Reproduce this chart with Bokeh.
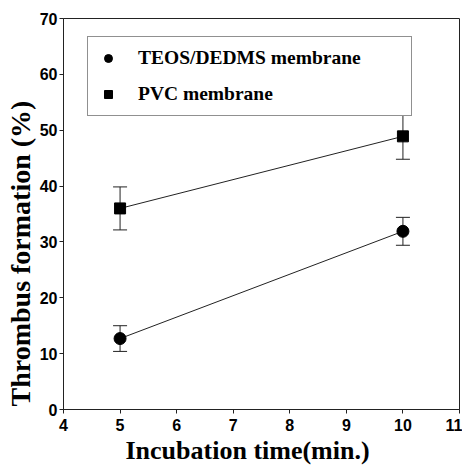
from bokeh.plotting import figure
from bokeh.models import (ColumnDataSource, Whisker, Legend, LegendItem, FixedTicker,
                          Range1d, Title)
from bokeh.embed import file_html
from bokeh.resources import INLINE

# data
time_min = [5, 10]
teos = [12.7, 31.9]
teos_err = [2.3, 2.5]
pvc = [36.0, 48.9]
pvc_err = [3.85, 4.1]
x_ticks = [4, 5, 6, 7, 8, 9, 10, 11]
y_ticks = [0, 10, 20, 30, 40, 50, 60, 70]

p = figure(width=462, height=466, output_backend="svg", toolbar_location=None,
           x_range=Range1d(4, 11), y_range=Range1d(0, 70),
           min_border_left=63, min_border_right=3, min_border_top=18, min_border_bottom=57)
p.grid.visible = False
p.outline_line_color = "#222222"
p.outline_line_width = 1
p.background_fill_color = "white"
p.border_fill_color = "white"

for ax in (p.xaxis[0], p.yaxis[0]):
    ax.major_label_text_font = "Liberation Sans"
    ax.major_label_text_font_style = "bold"
    ax.major_label_text_font_size = "16px"
    ax.major_label_text_color = "black"
    ax.major_tick_in = 0
    ax.major_tick_out = 4
    ax.minor_tick_in = 0
    ax.minor_tick_out = 0
    ax.axis_line_color = "#222222"
    ax.major_tick_line_color = "#222222"

p.xaxis.ticker = FixedTicker(ticks=x_ticks)
p.yaxis.ticker = FixedTicker(ticks=y_ticks)
p.xaxis.major_label_standoff = 5
p.yaxis.major_label_standoff = 2

# axis titles
xlab = Title(text="Incubation time(min.)", align="left", offset=62, standoff=0,
             text_font="Liberation Serif", text_font_style="bold", text_font_size="26px",
             text_color="black")
ylab = Title(text="Thrombus formation (%)", align="left", offset=3, standoff=2,
             text_font="Liberation Serif", text_font_style="bold", text_font_size="28px",
             text_color="black")
p.add_layout(xlab, "below")
p.add_layout(ylab, "left")

src_t = ColumnDataSource(dict(x=time_min, y=teos,
                              lo=[a - b for a, b in zip(teos, teos_err)],
                              hi=[a + b for a, b in zip(teos, teos_err)]))
src_p = ColumnDataSource(dict(x=time_min, y=pvc,
                              lo=[a - b for a, b in zip(pvc, pvc_err)],
                              hi=[a + b for a, b in zip(pvc, pvc_err)]))

for src in (src_t, src_p):
    w = Whisker(base="x", upper="hi", lower="lo", source=src,
                line_color="#222222", line_width=1)
    w.upper_head.size = 14
    w.lower_head.size = 14
    w.upper_head.line_color = "#222222"
    w.lower_head.line_color = "#222222"
    p.add_layout(w)

p.line("x", "y", source=src_t, line_color="#222222", line_width=1)
p.line("x", "y", source=src_p, line_color="#222222", line_width=1)
r_t = p.scatter("x", "y", source=src_t, marker="circle", size=12,
                fill_color="black", line_color="black")
r_p = p.scatter("x", "y", source=src_p, marker="square", size=11,
                fill_color="black", line_color="black")

legend = Legend(items=[LegendItem(label="TEOS/DEDMS membrane", renderers=[r_t]),
                       LegendItem(label="PVC membrane", renderers=[r_p])],
                location=(24, 293))
legend.label_text_font = "Liberation Serif"
legend.label_text_font_style = "bold"
legend.label_text_font_size = "19.5px"
legend.label_text_color = "black"
legend.glyph_width = 20
legend.glyph_height = 20
legend.label_height = 20
legend.spacing = 14
legend.padding = 10
legend.margin = 0
legend.label_standoff = 20
legend.label_width = 263
legend.border_line_color = "#222222"
legend.border_line_width = 1
legend.background_fill_alpha = 1
p.add_layout(legend)

open("out.html", "w").write(file_html(p, INLINE))
